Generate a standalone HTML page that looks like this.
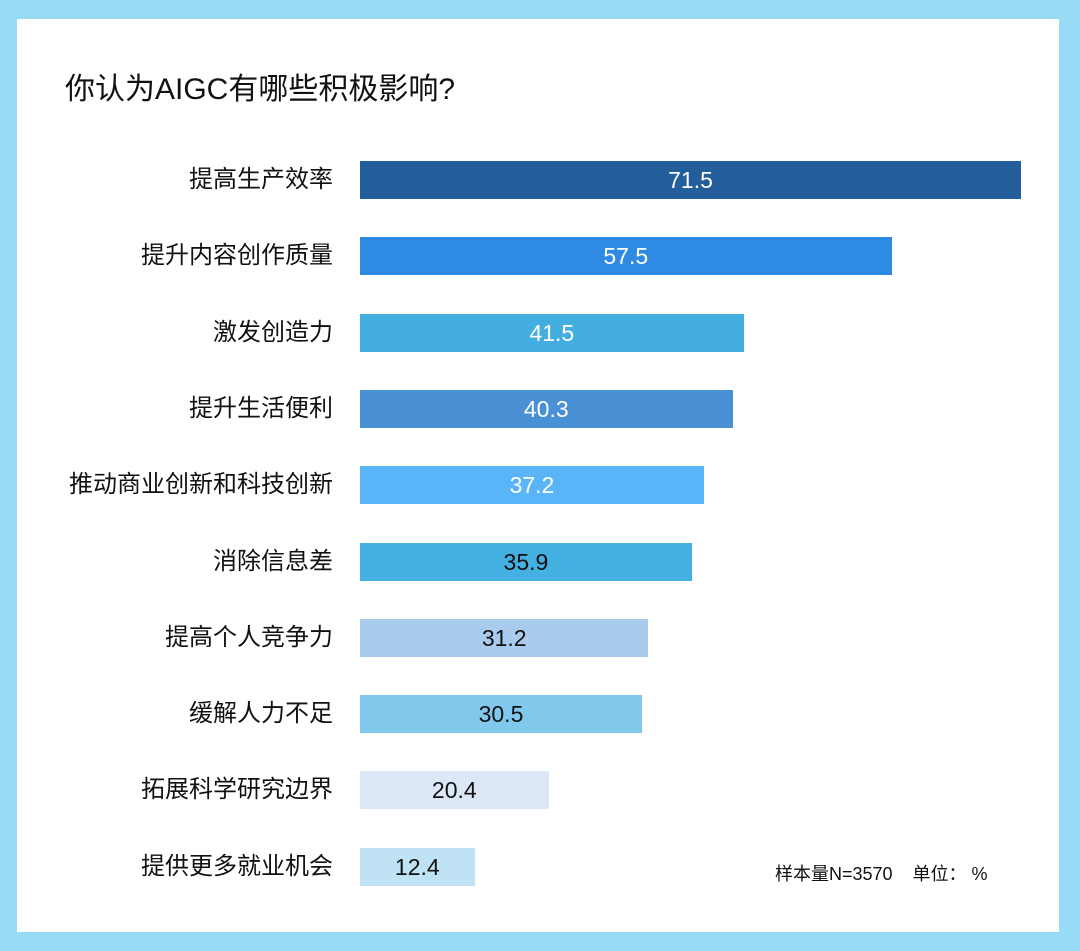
<!DOCTYPE html>
<html><head><meta charset="utf-8"><style>
body{margin:0;width:1080px;height:951px;background:#97dbf5;font-family:"Liberation Sans","Noto Sans CJK SC",sans-serif;position:relative;overflow:hidden}
#card{position:absolute;left:17px;top:19px;width:1042px;height:913px;background:#fff}
#title{position:absolute;left:65px;top:64px;font-size:30px;color:#111}
.lab{position:absolute;right:747px;font-size:24px;color:#111;white-space:nowrap;line-height:38px}
.bar{position:absolute;left:360px;height:38px;line-height:38px;text-align:center;font-size:23px}
#note{position:absolute;left:775px;top:860px;font-size:18px;color:#111;white-space:nowrap}
</style></head><body>
<div id="card"></div>
<div id="title">你认为AIGC有哪些积极影响?</div>
<div id="chart"></div>
<div id="note">样本量N=3570&nbsp;&nbsp;&nbsp; 单位：&nbsp;%</div>
<script>
const categories=["提高生产效率","提升内容创作质量","激发创造力","提升生活便利","推动商业创新和科技创新","消除信息差","提高个人竞争力","缓解人力不足","拓展科学研究边界","提供更多就业机会"];
const values=[71.5,57.5,41.5,40.3,37.2,35.9,31.2,30.5,20.4,12.4];
const colors=["#245e9a","#2f8ae4","#45aee0","#4a90d4","#5ab4f8","#45b0e2","#a8cbee","#80c8ec","#dce8f6","#bfe2f5"];
const textColors=["#fff","#fff","#fff","#fff","#fff","#111","#111","#111","#111","#111"];
const x=v=>v*661/71.5;
const y=i=>161+i*76.3;
const chart=document.getElementById('chart');
categories.forEach((c,i)=>{
  const l=document.createElement('div');l.className='lab';
  
  
  l.style.top=y(i)+'px';l.textContent=c;chart.appendChild(l);
  const b=document.createElement('div');b.className='bar';
  
  
  b.style.top=y(i)+'px';b.style.width=x(values[i])+'px';
  b.style.background=colors[i];b.style.color=textColors[i];
  b.textContent=values[i].toFixed(1);chart.appendChild(b);
});
</script>
</body></html>
